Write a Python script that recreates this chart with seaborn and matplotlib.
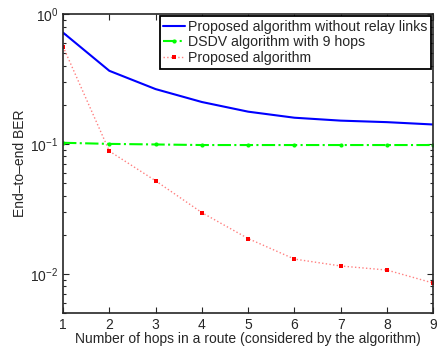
import numpy as np
import pandas as pd
import seaborn as sns
import matplotlib
matplotlib.use("Agg")
import matplotlib.pyplot as plt
from matplotlib.ticker import LogLocator, NullFormatter

hops = [1, 2, 3, 4, 5, 6, 7, 8, 9]
ber_no_relay = [0.718, 0.365, 0.264, 0.21, 0.177, 0.159, 0.151, 0.147, 0.141]
ber_dsdv = [0.102, 0.100, 0.099, 0.098, 0.098, 0.098, 0.098, 0.098, 0.098]
ber_proposed = [0.56, 0.088, 0.052, 0.0296, 0.0187, 0.013, 0.0115, 0.0107, 0.0085]

sns.set_style("ticks")
plt.rcParams['font.family'] = ['Liberation Sans', 'DejaVu Sans']
plt.rcParams['xtick.direction'] = 'in'
plt.rcParams['ytick.direction'] = 'in'

fig = plt.figure(figsize=(4.38, 3.48), dpi=100)
ax = fig.add_axes([0.144, 0.1006, 0.845, 0.8594])

sns.lineplot(x=hops, y=ber_no_relay, ax=ax, color='#0000ff', lw=1.5,
             label='Proposed algorithm without relay links')
sns.lineplot(x=hops, y=ber_dsdv, ax=ax, color='#00ff00', lw=1.5, ls='-.',
             marker='o', markersize=3, markeredgewidth=0,
             label='DSDV algorithm with 9 hops')
sns.lineplot(x=hops, y=ber_proposed, ax=ax, color='#ff8080', lw=1.0, ls=':',
             marker='s', markersize=3, markerfacecolor='red', markeredgewidth=0,
             label='Proposed algorithm')

ax.set_yscale('log')
ax.set_xlim(1, 9)
ax.set_ylim(0.005, 1)
ax.set_xticks(hops)
ax.yaxis.set_minor_locator(LogLocator(base=10, subs=np.arange(2, 10)))
ax.yaxis.set_minor_formatter(NullFormatter())
ax.tick_params(which='both', top=True, right=True, labelsize=10, width=0.8)
ax.tick_params(which='major', length=4)
ax.tick_params(which='minor', length=2)
for s in ax.spines.values():
    s.set_linewidth(1.2)

ax.set_xlabel('Number of hops in a route (considered by the algorithm)', fontsize=10, labelpad=0)
ax.set_ylabel('End\u2013to\u2013end BER', fontsize=10, labelpad=2)

leg = ax.legend(loc='upper right', fontsize=10.2, frameon=True, fancybox=False,
                borderaxespad=0.15, handlelength=1.5, handletextpad=0.25,
                labelspacing=0.12, borderpad=0.25)
leg.get_frame().set_edgecolor('black')
leg.get_frame().set_linewidth(1.3)
leg.get_frame().set_alpha(1)

fig.savefig('out.png', dpi=100)
